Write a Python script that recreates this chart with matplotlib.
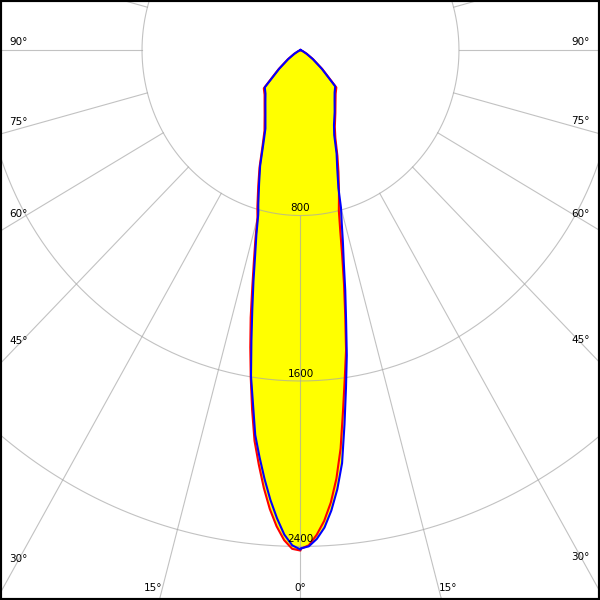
import numpy as np
import matplotlib
matplotlib.use("Agg")
import matplotlib.pyplot as plt

# gamma angle [deg] and luminous intensity [cd]
gamma = [0, 1, 2, 3, 4, 5, 6, 7, 8, 9, 10, 11, 12, 13, 14, 15, 16, 18, 20, 22.5, 25,
         30, 35, 40, 45, 50, 55, 60, 65, 70, 75, 80, 85, 90]
blue_left = [2415, 2395, 2344, 2267, 2180, 2082, 1979, 1875, 1725, 1597, 1427, 1275, 1142,
             1018, 921, 825, 773, 676, 596, 490, 419,
             354, 309, 275, 255, 140, 75, 35, 12, 0, 0, 0, 0, 0]
blue_right = [2410, 2400, 2365, 2312, 2232, 2132, 2008, 1823, 1650, 1494, 1325, 1184, 1051,
              951, 860, 790, 695, 600, 533, 445, 400,
              345, 300, 268, 248, 140, 75, 35, 12, 0, 0, 0, 0, 0]
red_left = [2420, 2412, 2371, 2306, 2224, 2125, 2015, 1904, 1756, 1605, 1460, 1318, 1170,
            1045, 940, 840, 790, 690, 605, 500, 430,
            362, 316, 282, 262, 145, 78, 36, 12, 0, 0, 0, 0, 0]
red_right = [2412, 2395, 2345, 2280, 2193, 2080, 1937, 1760, 1605, 1470, 1300, 1150, 1010,
             890, 800, 750, 705, 620, 545, 460, 410,
             352, 308, 276, 256, 145, 78, 36, 12, 0, 0, 0, 0, 0]

rings = [800, 1600, 2400, 3200]
ring_labels = ["800", "1600", "2400"]
side_angles = [90, 75, 60, 45, 30]
bottom_angles = [-15, 0, 15]

XL = (-1517, 1512)
YL = (-2659, 242)


def px2x(px):
    return XL[0] + px / 600 * (XL[1] - XL[0])


def px2y(py):
    return YL[1] - py / 600 * (YL[1] - YL[0])


def outline(left, right):
    g = np.radians(gamma)
    l = np.array(left, float)
    r = np.array(right, float)
    x = np.concatenate([-l[::-1] * np.sin(g[::-1]), r * np.sin(g)])
    y = np.concatenate([-l[::-1] * np.cos(g[::-1]), -r * np.cos(g)])
    return x, y


fig = plt.figure(figsize=(6, 6), dpi=100)
ax = fig.add_axes([0, 0, 1, 1])

bx, by = outline(blue_left, blue_right)
rx, ry = outline(red_left, red_right)
ax.fill(rx, ry, color="#ffff00", lw=0, zorder=1)
ax.fill(bx, by, color="#ffff00", lw=0, zorder=1)

# grid: rings and radial spokes starting at the first ring
phi = np.linspace(0, 2 * np.pi, 400)
for r in rings:
    ax.plot(r * np.sin(phi), r * np.cos(phi), color="#a8a8a8", lw=0.8, alpha=0.7, zorder=2)
for a in range(0, 360, 15):
    t = np.radians(a)
    ax.plot([rings[0] * np.sin(t), 5000 * np.sin(t)],
            [-rings[0] * np.cos(t), -5000 * np.cos(t)],
            color="#a8a8a8", lw=0.8, alpha=0.7, zorder=2)

ax.plot(rx, ry, color="#ff0000", lw=1.5, zorder=3)
ax.plot(bx, by, color="#0000ff", lw=1.5, zorder=4)

fs = 7.5
for r, lab in zip(rings, ring_labels):
    ax.annotate(lab, (0, -r), xytext=(0, 1.5), textcoords="offset points",
                ha="center", va="bottom", fontsize=fs, zorder=5)

for a in side_angles:
    t = np.radians(a)
    dy = 8 * np.sin(t) ** 2 * 0.72
    yl = px2x(18) / np.tan(t)
    ax.annotate(f"{a}°", (px2x(9), yl), xytext=(0, dy), textcoords="offset points",
                ha="left", va="center", fontsize=fs, zorder=5)
    yr = -px2x(582) / np.tan(t)
    ax.annotate(f"{a}°", (px2x(590), yr), xytext=(0, dy), textcoords="offset points",
                ha="right", va="center", fontsize=fs, zorder=5)

yb = px2y(588)
for a in bottom_angles:
    xb = -yb * np.tan(np.radians(a))
    ha = "center" if a == 0 else ("right" if a < 0 else "left")
    ax.text(xb, yb, f"{abs(a)}°", ha=ha, va="center", fontsize=fs, zorder=5)

ax.set_xlim(*XL)
ax.set_ylim(*YL)
ax.set_xticks([])
ax.set_yticks([])
for s in ax.spines.values():
    s.set_linewidth(3)
    s.set_color("black")

fig.savefig("out.png", dpi=100)
